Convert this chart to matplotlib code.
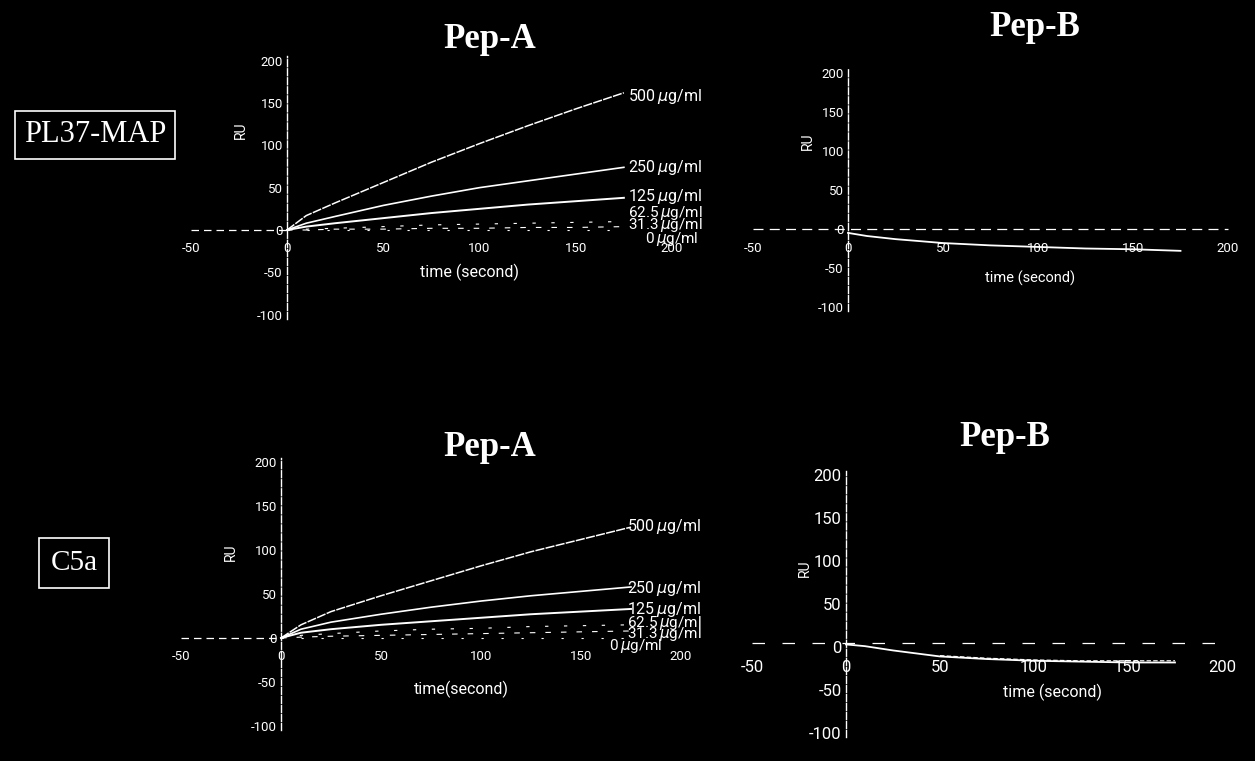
import matplotlib
matplotlib.use("Agg")
import matplotlib.pyplot as plt

# time points of the association phase (s)
t = [0, 10, 25, 50, 75, 100, 125, 150, 175]
t_base = [-50, -25, -5, 0]
t_flat = [-50, 0, 50, 100, 150, 200]

conc = ["500", "250", "125", "62.5", "31.3", "0"]

# PL37-MAP, Pep-A (RU)
pl_a = {
    "500": [0, 17, 32, 56, 80, 102, 123, 143, 162],
    "250": [0, 8, 16, 29, 40, 50, 58, 66, 74],
    "125": [0, 4, 8, 14, 20, 25, 30, 34, 38],
    "62.5": [0, 1, 2, 4, 6, 7, 8, 9, 10],
    "31.3": [0, 0, 1, 1, 2, 2, 3, 3, 4],
    "0": [0, 0, 0, 0, 0, 0, 0, 0, 0],
}
pl_a_base = [0, 0, 0, 0]
# PL37-MAP, Pep-B
pl_b = [-5, -9, -13, -18, -21, -23, -25, -26, -28]
pl_b_base = [0, 0, 0, 0, 0, 0]

# C5a, Pep-A
c5_a = {
    "500": [0, 15, 30, 48, 65, 82, 98, 112, 126],
    "250": [0, 10, 18, 27, 35, 42, 48, 53, 58],
    "125": [0, 6, 10, 15, 19, 23, 27, 30, 33],
    "62.5": [0, 3, 5, 8, 10, 11, 13, 14, 15],
    "31.3": [0, 1, 2, 3, 4, 5, 6, 7, 8],
    "0": [0, 0, 0, 0, 0, 0, 0, 0, 0],
}
c5_a_base = [0, 0, 0, 0]
# C5a, Pep-B
c5_b = [3, 1, -4, -11, -14, -16, -17, -18, -18]
c5_b_2 = [3, 0, -5, -10, -13, -15, -16, -16, -16]
c5_b_base = [5, 5, 5, 5, 5, 5]

xticks = [-50, 0, 50, 100, 150, 200]
yticks = [-100, -50, 0, 50, 100, 150, 200]

plt.rcParams["axes.unicode_minus"] = False

W, H = 1255, 761
FG = "white"
SANS = ["Liberation Sans Narrow", "Roboto", "DejaVu Sans"]
SERIF = ["Liberation Serif", "DejaVu Serif"]

fig = plt.figure(figsize=(W / 100, H / 100), dpi=100, facecolor="black")

XLIM = (-58, 205)
YLIM = (-105, 205)


def panel(ox, oy, sx, sy, tick_fs):
    # ox, oy: pixel position of data origin; sx, sy: pixels per unit
    left = ox + XLIM[0] * sx
    right = ox + XLIM[1] * sx
    top = oy - YLIM[1] * sy
    bottom = oy - YLIM[0] * sy
    ax = fig.add_axes([left / W, 1 - bottom / H, (right - left) / W, (bottom - top) / H])
    ax.set_facecolor("black")
    ax.set_xlim(*XLIM)
    ax.set_ylim(*YLIM)
    for s in ["top", "right"]:
        ax.spines[s].set_visible(False)
    ax.spines["left"].set_position(("data", 0))
    ax.spines["bottom"].set_position(("data", 0))
    ax.spines["bottom"].set_visible(False)
    ax.spines["left"].set_color(FG)
    ax.spines["left"].set_linestyle((0, (5, 1.5)))
    ax.spines["left"].set_linewidth(1.0)
    ax.set_xticks(xticks)
    ax.set_yticks(yticks)
    ax.tick_params(colors=FG, length=0, labelsize=tick_fs)
    ax.tick_params(axis="x", pad=9)
    ax.tick_params(axis="y", pad=3)
    for lab in ax.get_xticklabels() + ax.get_yticklabels():
        lab.set_family(SANS)
    return ax


def conc_lines(ax, data, base, labels_y, label_x, zero_x, fs):
    ax.plot(t_base, base, color=FG, lw=0.9, ls=(0, (6, 4)))
    styles = {"500": (1.1, (0, (6, 0.8))), "250": (1.2, "-"), "125": (1.4, "-"),
              "62.5": (0.8, (0, (3, 14))), "31.3": (0.8, (0, (5, 9))), "0": (0.8, (0, (2, 16)))}
    for c in conc:
        lw, ls = styles[c]
        ax.plot(t, data[c], color=FG, lw=lw, ls=ls)
    for c, ly in zip(conc, labels_y):
        lx = label_x if c != "0" else zero_x
        size = fs if c in ("500", "250", "125") else fs - 0.5
        ax.text(lx, ly, c + r"$\,\mu$g/ml", color=FG, fontsize=size, va="center",
                ha="left", family=SANS)


# top left: PL37-MAP / Pep-A
ax1 = panel(287, 230, 1.925, 0.847, 9.5)
conc_lines(ax1, pl_a, pl_a_base, [158, 74, 39, 20, 6, -11], 177, 186, 11.5)
ax1.text(-24, 118, "RU", rotation=90, color=FG, fontsize=10, va="center", ha="center", family=SANS)
ax1.text(95, -50, "time (second)", color=FG, fontsize=11.5, ha="center", va="center", family=SANS)

# top right: PL37-MAP / Pep-B
ax2 = panel(848, 229, 1.9, 0.78, 9.5)
ax2.plot(t_flat, pl_b_base, color=FG, lw=0.9, ls=(0, (8, 5)))
ax2.plot(t, pl_b, color=FG, lw=1.3)
ax2.text(-21, 112, "RU", rotation=90, color=FG, fontsize=10, va="center", ha="center", family=SANS)
ax2.text(96, -63, "time (second)", color=FG, fontsize=10.5, ha="center", va="center", family=SANS)

# bottom left: C5a / Pep-A
ax3 = panel(281, 638, 2.0, 0.88, 9.5)
conc_lines(ax3, c5_a, c5_a_base, [127, 56, 32, 17, 5, -9], 173, 164, 11.5)
ax3.text(-25, 97, "RU", rotation=90, color=FG, fontsize=10, va="center", ha="center", family=SANS)
ax3.text(90, -58, "time(second)", color=FG, fontsize=11.5, ha="center", va="center", family=SANS)

# bottom right: C5a / Pep-B
ax4 = panel(846, 647, 1.88, 0.86, 12)
ax4.plot(t_flat, c5_b_base, color=FG, lw=0.9, ls=(0, (10, 14)))
ax4.plot(t, c5_b, color=FG, lw=1.3)
ax4.plot(t[3:], c5_b_2[3:], color=FG, lw=0.8, ls=(0, (4, 2)))
ax4.text(-22, 92, "RU", rotation=90, color=FG, fontsize=10, va="center", ha="center", family=SANS)
ax4.text(110, -53, "time (second)", color=FG, fontsize=11.5, ha="center", va="center", family=SANS)

# panel titles
for x, y, s in [(490, 40, "Pep-A"), (1035, 28, "Pep-B"), (490, 448, "Pep-A"), (1005, 438, "Pep-B")]:
    fig.text(x / W, 1 - y / H, s, color=FG, fontsize=25, fontweight="bold",
             ha="center", va="center", family=SERIF)

# row labels
fig.text(95 / W, 1 - 135 / H, "PL37-MAP", color=FG, fontsize=22, ha="center", va="center",
         family=SERIF, bbox=dict(boxstyle="square,pad=0.3", fc="black", ec=FG, lw=1.2))
fig.text(74 / W, 1 - 563 / H, "C5a", color=FG, fontsize=21, ha="center", va="center",
         family=SERIF, bbox=dict(boxstyle="square,pad=0.4", fc="black", ec=FG, lw=1.2))

fig.savefig("out.png", dpi=100, facecolor="black")
